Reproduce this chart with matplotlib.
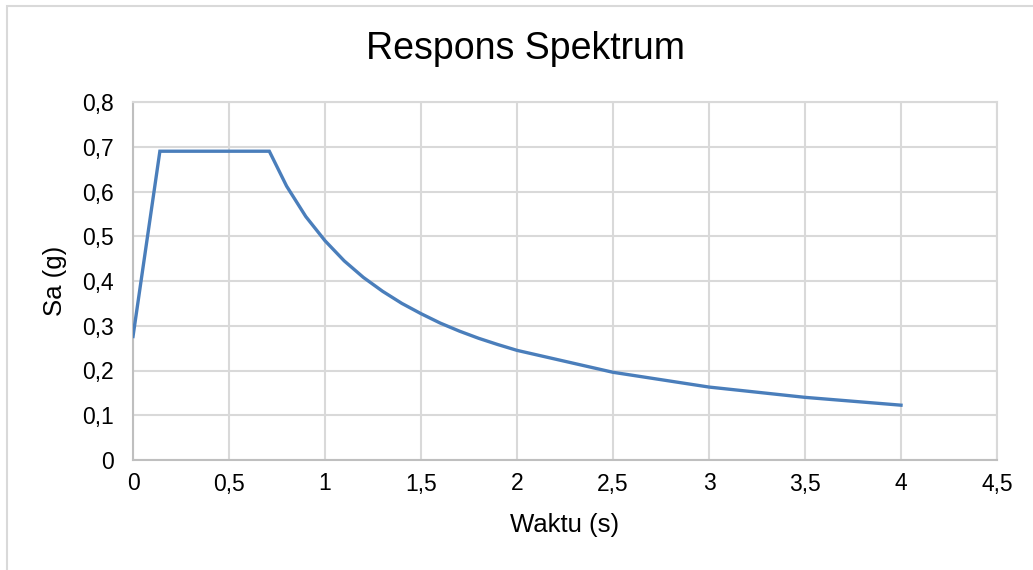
import matplotlib.pyplot as plt
from matplotlib.patches import Rectangle
from matplotlib.ticker import FuncFormatter

# Data
waktu = [0, 0.14, 0.71, 0.8, 0.9, 1.0, 1.1, 1.2, 1.3, 1.4, 1.5, 1.6, 1.7, 1.8, 1.9, 2.0, 2.5, 3.0, 3.5, 4.0]
sa = [0.276, 0.69, 0.69, 0.612, 0.544, 0.49, 0.445, 0.408, 0.377, 0.35, 0.327,
      0.306, 0.288, 0.272, 0.258, 0.245, 0.196, 0.163, 0.14, 0.1225]
x_ticks = [0, 0.5, 1, 1.5, 2, 2.5, 3, 3.5, 4, 4.5]
y_ticks = [0, 0.1, 0.2, 0.3, 0.4, 0.5, 0.6, 0.7, 0.8]

plt.rcParams['font.family'] = ['Liberation Sans', 'DejaVu Sans']

fig = plt.figure(figsize=(10.33, 5.70), dpi=100)
ax = fig.add_axes([133 / 1033, 1 - 460 / 570, 864 / 1033, 358 / 570])

# chart frame
fig.patches.append(Rectangle((7 / 1033, -0.05), 1.1, 1 - 6 / 570 + 0.05,
                             transform=fig.transFigure, fill=False,
                             edgecolor='#d9d9d9', linewidth=1.5))

ax.plot(waktu, sa, color='#4a7ebb', linewidth=2.4, solid_joinstyle='miter', zorder=3)

ax.set_xlim(0, 4.5)
ax.set_ylim(0, 0.8)
ax.set_xticks(x_ticks)
ax.set_yticks(y_ticks)
fmt = FuncFormatter(lambda v, p: ('%g' % v).replace('.', ','))
ax.xaxis.set_major_formatter(fmt)
ax.yaxis.set_major_formatter(fmt)
ax.tick_params(length=0, labelsize=16.5, colors='black')
ax.tick_params(axis='x', pad=9)
ax.tick_params(axis='y', pad=14)

ax.grid(True, color='#d9d9d9', linewidth=1.5)
ax.set_axisbelow(True)
for side in ['top', 'right']:
    ax.spines[side].set_color('#d9d9d9')
    ax.spines[side].set_linewidth(1.5)
for side in ['left', 'bottom']:
    ax.spines[side].set_color('#bfbfbf')
    ax.spines[side].set_linewidth(1.5)

fig.text(525 / 1033, 1 - 49 / 570, 'Respons Spektrum', fontsize=27,
         ha='center', va='center')
fig.text(565 / 1033, 1 - 525 / 570, 'Waktu (s)', fontsize=18.5,
         ha='center', va='center')
fig.text(55 / 1033, 1 - 281 / 570, 'Sa (g)', fontsize=18.5, rotation=90,
         ha='center', va='center')

fig.savefig('out.png', dpi=100)
